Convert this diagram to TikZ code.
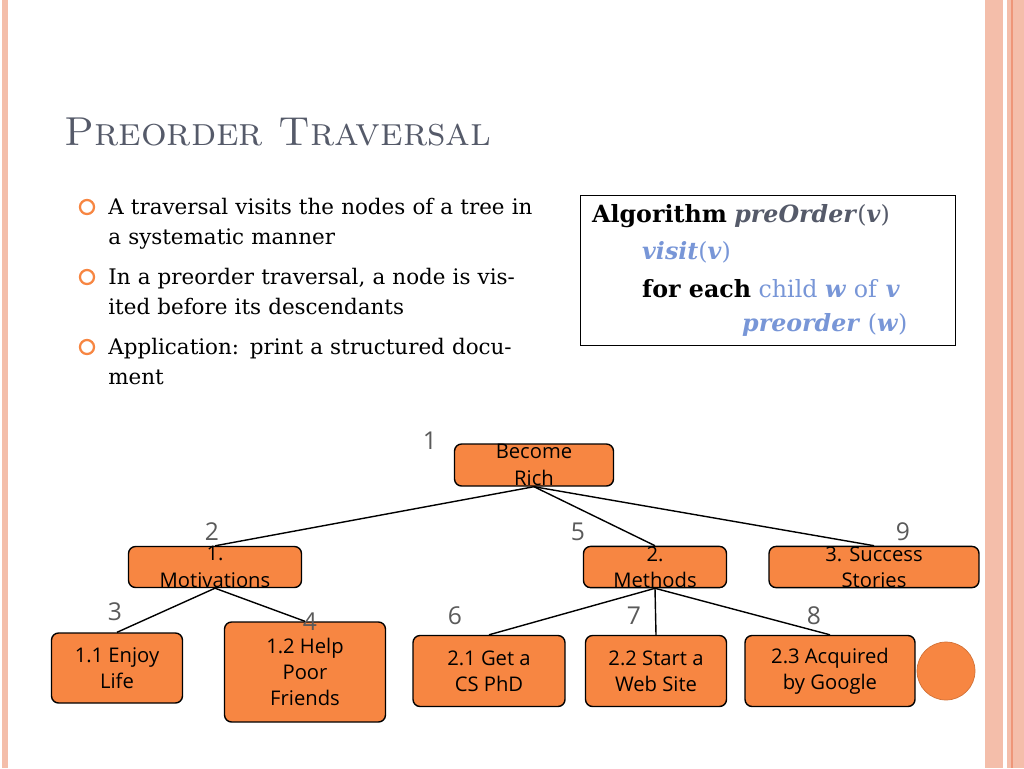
\documentclass[tikz,border=0pt]{standalone}
\usepackage{fontspec}
\usepackage{amsmath}
\newfontfamily\serifbody{DejaVu Serif}
\newfontfamily\sansnode{Open Sans}
\usetikzlibrary{positioning}
\definecolor{boxorange}{RGB}{247,134,66}
\definecolor{stripe}{RGB}{244,190,170}
\definecolor{stripedark}{RGB}{238,150,120}
\definecolor{titlegray}{RGB}{85,90,105}
\definecolor{algoblue}{RGB}{120,150,215}
\definecolor{numgray}{RGB}{90,90,90}
\begin{document}
\begin{tikzpicture}[x=0.02cm,y=-0.02cm,
  box/.style={draw, fill=boxorange, rounded corners=4pt, thick, align=center, inner sep=0pt,
    font=\sansnode\fontsize{11.5}{15}\selectfont},
  num/.style={text=numgray, font=\sansnode\fontsize{14}{16}\selectfont},
  edge/.style={thick},
  item/.style={anchor=north west, align=left, text width=8.6cm, inner sep=0pt,
    font=\serifbody\fontsize{12.2}{17}\selectfont},
  algo/.style={anchor=west, font=\serifbody\fontsize{13.5}{18}\selectfont}]
\useasboundingbox (0,0) rectangle (1024,768);
% background strips
\fill[stripe] (985,0) rectangle (1024,768);
\fill[white] (1003,0) rectangle (1007,768);
\draw[stripedark, line width=1pt] (1012,0) -- (1012,768);
\draw[stripe, line width=3pt] (5,0) -- (5,768);
% title
\node[anchor=west, text=titlegray, font=\fontsize{23}{28}\selectfont\scshape] (title) at (58,132) {Preorder Traversal};
% bullet list
\foreach \y/\txt [count=\i] in {198/{A traversal visits the nodes of a tree in a systematic manner},
    268/{In a preorder traversal, a node is visited before its descendants},
    338/{Application: print a structured document}} {
  \node[circle, draw=boxorange, line width=1.3pt, minimum size=8pt, inner sep=0pt] (dot\i) at (87,\y+9) {};
  \node[item] (item\i) at (108,\y) {\raggedright\txt};
}
% algorithm box
\node[draw, anchor=north west, minimum width=7.5cm, minimum height=3cm, inner sep=0pt] (algo) at (580,195) {};
\node[algo] (alg1) at (586,216)
  {\textbf{Algorithm} \textcolor{titlegray}{\textbf{\textit{preOrder}}(\textbf{\textit{v}})}};
\node[algo, text=algoblue] (alg2) at (636,252)
  {\textbf{\textit{visit}}(\textbf{\textit{v}})};
\node[algo] (alg3) at (636,289)
  {\textbf{for each} \textcolor{algoblue}{child \textbf{\textit{w}} of \textbf{\textit{v}}}};
\node[algo, text=algoblue] (alg4) at (736,325)
  {\textbf{\textit{preorder}} (\textbf{\textit{w}})};
% tree nodes
\node[box, minimum width=3.18cm, minimum height=0.84cm] (rich) at (534,465) {Become\\Rich};
\node[box, minimum width=3.46cm, minimum height=0.82cm] (motiv) at (215,567) {1.\\Motivations};
\node[box, minimum width=2.86cm, minimum height=0.82cm] (method) at (655,567) {2.\\Methods};
\node[box, minimum width=4.2cm, minimum height=0.82cm] (success) at (874,567) {3. Success\\Stories};
\node[box, minimum width=2.62cm, minimum height=1.4cm] (enjoy) at (117,668) {1.1 Enjoy\\Life};
\node[box, minimum width=3.22cm, minimum height=2cm] (help) at (305,672) {1.2 Help\\Poor\\Friends};
\node[box, minimum width=3.04cm, minimum height=1.42cm] (phd) at (489,671) {2.1 Get a\\CS PhD};
\node[box, minimum width=2.82cm, minimum height=1.42cm] (web) at (656,671) {2.2 Start a\\Web Site};
\node[box, minimum width=3.4cm, minimum height=1.42cm] (google) at (830,671) {2.3 Acquired\\by Google};
\node[circle, fill=boxorange, draw=boxorange!85!black, minimum size=1.16cm, inner sep=0pt] (blob) at (946,671) {};
% edges
\draw[edge] (rich.south) -- (motiv.north);
\draw[edge] (rich.south) -- (method.north);
\draw[edge] (rich.south) -- (success.north);
\draw[edge] (motiv.south) -- (enjoy.north);
\draw[edge] (motiv.south) -- (help.north);
\draw[edge] (method.south) -- (phd.north);
\draw[edge] (method.south) -- (web.north);
\draw[edge] (method.south) -- (google.north);
% visit order
\node[num] (n1) at (430,441) {1};
\node[num] (n2) at (212,532) {2};
\node[num] (n5) at (578,532) {5};
\node[num] (n9) at (903,532) {9};
\node[num] (n3) at (115,612) {3};
\node[num] (n4) at (310,622) {4};
\node[num] (n6) at (455,616) {6};
\node[num] (n7) at (634,616) {7};
\node[num] (n8) at (814,616) {8};
\end{tikzpicture}
\end{document}
